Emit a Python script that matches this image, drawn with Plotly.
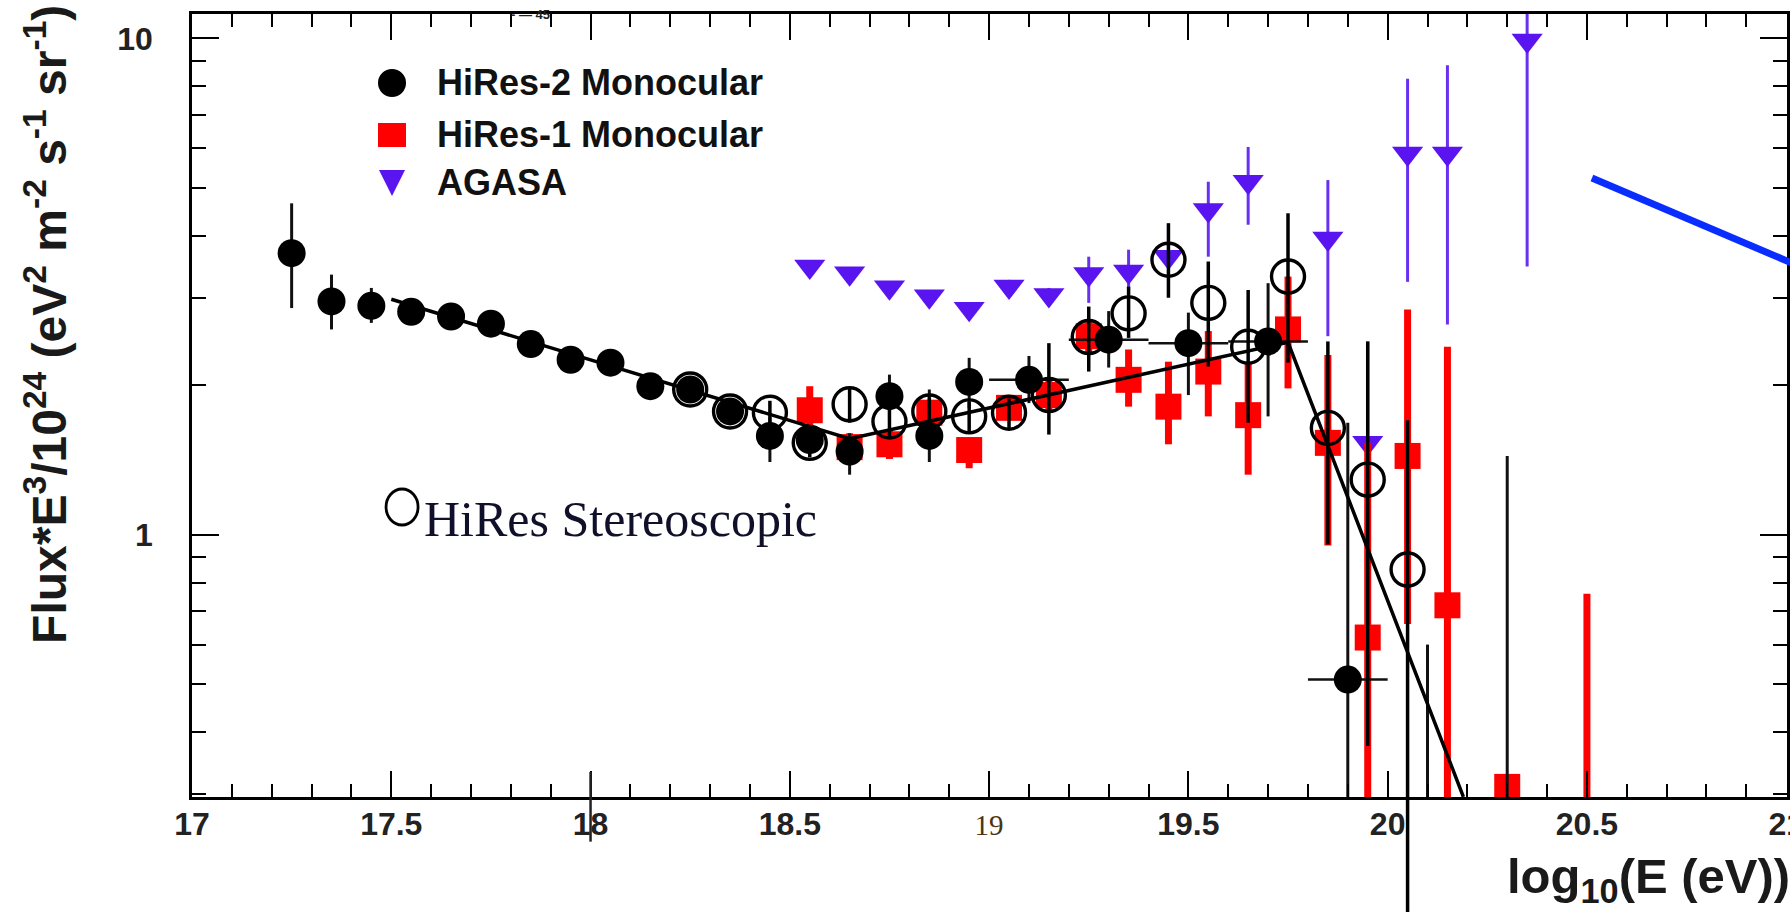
import plotly.graph_objects as go

# ---------------- data ----------------
hires2_x = [17.25, 17.35, 17.45, 17.55, 17.65, 17.75, 17.85, 17.95, 18.05, 18.15,
            18.25, 18.35, 18.45, 18.55, 18.65, 18.75, 18.85, 18.95, 19.1, 19.3,
            19.5, 19.7, 19.9, 20.1, 20.3]
hires2_y = [3.69, 2.95, 2.89, 2.81, 2.75, 2.66, 2.42, 2.25, 2.22, 1.99,
            1.96, 1.77, 1.58, 1.55, 1.47, 1.90, 1.58, 2.03, 2.05, 2.47,
            2.43, 2.45, 0.51, 0.20, 0.20]
hires2_up = [0.96, 0.39, 0.25, 0.08, 0.08, 0.08, 0.08, 0.07, 0.07, 0.07,
             0.07, 0.08, 0.14, 0.10, 0.13, 0.20, 0.38, 0.24, 0.24, 0.35,
             0.37, 0.76, 1.17, 0.40, 1.24]
hires2_dn = [0.83, 0.36, 0.22, 0.08, 0.08, 0.08, 0.08, 0.07, 0.07, 0.07,
             0.07, 0.08, 0.18, 0.10, 0.15, 0.20, 0.18, 0.23, 0.21, 0.30,
             0.52, 0.72, 0.49, 0.0, 0.0]
hires2_xerr = [0, 0, 0, 0, 0, 0, 0, 0, 0, 0,
               0, 0, 0, 0, 0, 0, 0, 0, 0.1, 0.1,
               0.1, 0.1, 0.1, 0, 0]

hires1_x = [18.55, 18.65, 18.75, 18.85, 18.95, 19.05, 19.15, 19.25, 19.35, 19.45,
            19.55, 19.65, 19.75, 19.85, 19.95, 20.05, 20.15, 20.3, 20.5]
hires1_y = [1.78, 1.50, 1.52, 1.76, 1.48, 1.80, 1.91, 2.51, 2.05, 1.81,
            2.13, 1.74, 2.59, 1.53, 0.62, 1.44, 0.72, 0.31, 0.20]
hires1_up = [0.21, 0.10, 0.10, 0.09, 0.08, 0.10, 0.14, 0.19, 0.31, 0.42,
             0.44, 0.48, 0.72, 0.77, 0.91, 1.40, 1.67, 0.0, 0.56]
hires1_dn = [0.16, 0.12, 0.10, 0.14, 0.12, 0.10, 0.15, 0.21, 0.24, 0.29,
             0.40, 0.42, 0.62, 0.58, 0.60, 0.78, 0.70, 0.0, 0.0]

agasa_x = [18.55, 18.65, 18.75, 18.85, 18.95, 19.05, 19.15, 19.25, 19.35, 19.45,
           19.55, 19.65, 19.85, 19.95, 20.05, 20.15, 20.35]
agasa_y = [3.47, 3.36, 3.15, 3.02, 2.85, 3.16, 3.04, 3.35, 3.39, 3.63,
           4.51, 5.14, 3.95, 1.53, 5.86, 5.86, 9.9]
agasa_up = [0.08, 0.08, 0.08, 0.08, 0.08, 0.10, 0.10, 0.28, 0.36, 0.60,
            0.63, 0.90, 1.23, 0.92, 2.43, 2.97, 3.0]
agasa_dn = [0.08, 0.08, 0.08, 0.08, 0.08, 0.10, 0.10, 0.42, 0.28, 0.60,
            0.88, 0.93, 1.44, 0.23, 2.63, 3.21, 6.43]

stereo_x = [18.25, 18.35, 18.45, 18.55, 18.65, 18.75, 18.85, 18.95, 19.05, 19.15,
            19.25, 19.35, 19.45, 19.55, 19.65, 19.75, 19.85, 19.95, 20.05]
stereo_y = [1.96, 1.77, 1.76, 1.53, 1.83, 1.69, 1.77, 1.73, 1.76, 1.91,
            2.50, 2.79, 3.58, 2.93, 2.39, 3.31, 1.64, 1.29, 0.85]
stereo_up = [0.05, 0.05, 0.10, 0.10, 0.15, 0.12, 0.12, 0.12, 0.12, 0.52,
             0.38, 0.37, 0.66, 0.62, 0.72, 1.13, 0.81, 1.16, 0.85]
stereo_dn = [0.05, 0.05, 0.10, 0.10, 0.15, 0.12, 0.12, 0.12, 0.12, 0.32,
             0.37, 0.30, 0.58, 0.75, 0.71, 1.09, 0.685, 0.915, 0.84]

fit_x = [17.5, 18.65, 19.75, 20.19]
fit_y = [2.98, 1.56, 2.44, 0.296]

x_tickvals = [17, 17.5, 18, 18.5, 19, 19.5, 20, 20.5, 21]
x_ticktext = ["17", "17.5", "18", "18.5", "19", "19.5", "20", "20.5", "21"]
y_tickvals = [1, 10]
y_ticktext = ["1", "10"]
y_minor_vals = [0.3, 0.4, 0.5, 0.6, 0.7, 0.8, 0.9, 2, 3, 4, 5, 6, 7, 8, 9]

legend_names = ["HiRes-2 Monocular", "HiRes-1 Monocular", "AGASA"]

# --------------------------------------------------------------
SANS = "Liberation Sans, Arial, sans-serif"
SERIF = "Liberation Serif, Times New Roman, serif"
VIOLET = "#5a14f0"
RED = "#ff0000"

# odd serif "19" label as in the picture
x_ticktext_styled = [
    ('<span style="font-family:Liberation Serif;font-weight:normal;'
     'font-size:29px;color:#4a3512">' + t + '</span>') if t == "19" else t
    for t in x_ticktext
]

fig = go.Figure()

fig.add_trace(go.Scatter(
    x=agasa_x, y=agasa_y, mode="markers", name=legend_names[2], showlegend=False,
    marker=dict(symbol="triangle-down", size=27, color=VIOLET, line=dict(width=0)),
    error_y=dict(type="data", symmetric=False, array=agasa_up, arrayminus=agasa_dn,
                 color="#6a30f2", thickness=3, width=0),
))

fig.add_trace(go.Scatter(
    x=hires1_x, y=hires1_y, mode="markers", name=legend_names[1], showlegend=False,
    marker=dict(symbol="square", size=26, color=RED, line=dict(width=0)),
    error_y=dict(type="data", symmetric=False, array=hires1_up, arrayminus=hires1_dn,
                 color=RED, thickness=7, width=0),
))

fig.add_trace(go.Scatter(
    x=hires2_x, y=hires2_y, mode="markers", name=legend_names[0], showlegend=False,
    marker=dict(symbol="circle", size=28, color="#000000", line=dict(width=0)),
    error_y=dict(type="data", symmetric=False, array=hires2_up, arrayminus=hires2_dn,
                 color="#111111", thickness=3, width=0),
    error_x=dict(type="data", array=hires2_xerr, color="#111111", thickness=2.5, width=0),
))

fig.add_trace(go.Scatter(
    x=fit_x, y=fit_y, mode="lines", showlegend=False,
    line=dict(color="#000000", width=3.5),
))

fig.add_trace(go.Scatter(
    x=stereo_x, y=stereo_y, mode="markers", name="HiRes Stereoscopic", showlegend=False,
    marker=dict(symbol="circle-open", size=33, color="#000000", line=dict(width=3.4, color="#000000")),
    error_y=dict(type="data", symmetric=False, array=stereo_up, arrayminus=stereo_dn,
                 color="#000000", thickness=3.5, width=0),
))

# stereo error bar of the last point continues below the frame
fig.add_shape(type="line", xref="x", yref="paper",
              x0=stereo_x[-1], x1=stereo_x[-1], y0=0, y1=-0.16,
              line=dict(color="#000000", width=3.5))
# stray stroke through the "18" label
fig.add_shape(type="line", xref="x", yref="paper",
              x0=x_tickvals[2], x1=x_tickvals[2], y0=0.032, y1=-0.057,
              line=dict(color="#222222", width=2.5))
# blue pointer line at top right
fig.add_shape(type="line", xref="paper", yref="paper",
              x0=0.8777, y0=0.7905, x1=1.003, y1=0.682,
              line=dict(color="#0a2dff", width=7))

# ---- legend drawn as in the picture (keys + labels) ----
LEG_SYM_X = 0.1254
LEG_TXT_X = 0.1524
LEG_ROWS = [0.9119, 0.8455, 0.7854]
fig.add_shape(type="circle", xref="paper", yref="paper", xsizemode="pixel", ysizemode="pixel",
              xanchor=LEG_SYM_X, yanchor=LEG_ROWS[0], x0=-14, x1=14, y0=-14, y1=14,
              fillcolor="#000000", line=dict(width=0))
fig.add_shape(type="rect", xref="paper", yref="paper", xsizemode="pixel", ysizemode="pixel",
              xanchor=LEG_SYM_X, yanchor=LEG_ROWS[1], x0=-14, x1=14, y0=-12, y1=12,
              fillcolor=RED, line=dict(width=0))
fig.add_shape(type="path", xref="paper", yref="paper", xsizemode="pixel", ysizemode="pixel",
              xanchor=LEG_SYM_X, yanchor=LEG_ROWS[2], path="M -13,12 L 13,12 L 0,-14 Z",
              fillcolor=VIOLET, line=dict(width=0))
for name, row in zip(legend_names, LEG_ROWS):
    fig.add_annotation(xref="paper", yref="paper", x=LEG_TXT_X, y=row,
                       xanchor="left", yanchor="middle", showarrow=False, text=name,
                       font=dict(family=SANS, size=36, weight="bold", color="#111111"))

# open circle key for the stereo data
fig.add_shape(type="circle", xref="paper", yref="paper",
              xsizemode="pixel", ysizemode="pixel",
              xanchor=0.1317, yanchor=0.3704,
              x0=-16, x1=16, y0=-18, y1=18,
              line=dict(color="#000000", width=2.8))
fig.add_annotation(xref="paper", yref="paper", x=0.144, y=0.355,
                   xanchor="left", yanchor="middle", showarrow=False,
                   text="HiRes Stereoscopic",
                   font=dict(family=SERIF, size=50, color="#10102a"))

# cut-off text fragment on the top frame
fig.add_annotation(xref="paper", yref="paper", x=0.212, y=1.0,
                   xanchor="center", yanchor="middle", showarrow=False,
                   text="- — 45",
                   font=dict(family=SANS, size=13, weight="bold", color="#222222"))

# y-axis title
fig.add_annotation(xref="paper", yref="paper", x=-0.0915, y=0.603,
                   xanchor="center", yanchor="middle", showarrow=False,
                   textangle=-90,
                   text="Flux*E<sup>3</sup>/10<sup>24</sup> (eV<sup>2</sup> m<sup>-2</sup> s<sup>-1</sup> sr<sup>-1</sup>)",
                   font=dict(family=SANS, size=48, weight="bold", color="#1a1a1a"))
# x-axis title
fig.add_annotation(xref="paper", yref="paper", x=1.0031, y=-0.106,
                   xanchor="right", yanchor="middle", showarrow=False,
                   text="log<sub>10</sub>(E (eV))",
                   font=dict(family=SANS, size=49, weight="bold", color="#1a1a1a"))

fig.update_layout(
    width=1790, height=912,
    margin=dict(l=192, r=3, t=14, b=115, pad=0, autoexpand=False),
    paper_bgcolor="white", plot_bgcolor="white",
    showlegend=False,
    xaxis=dict(
        range=[17, 21.002], showgrid=False, zeroline=False,
        showline=True, linecolor="#000000", linewidth=2.5, mirror="allticks",
        ticks="inside", ticklen=26, tickwidth=2, tickcolor="#000000",
        tickmode="array", tickvals=x_tickvals, ticktext=x_ticktext_styled,
        tickfont=dict(family=SANS, size=32, weight="bold", color="#222222"),
        ticklabelstandoff=-3, ticklabeloverflow="allow",
        minor=dict(ticks="inside", ticklen=13, tickwidth=2, tickcolor="#000000",
                   dtick=0.1, tick0=17, showgrid=False),
    ),
    yaxis=dict(
        type="log", range=[-0.529, 1.049], showgrid=False, zeroline=False,
        showline=True, linecolor="#000000", linewidth=2.5, mirror="allticks",
        ticks="inside", ticklen=27, tickwidth=2, tickcolor="#000000",
        tickmode="array", tickvals=y_tickvals, ticktext=y_ticktext,
        tickfont=dict(family=SANS, size=32, weight="bold", color="#222222"),
        ticklabelstandoff=30,
        minor=dict(ticks="inside", ticklen=14, tickwidth=2, tickcolor="#000000",
                   tickmode="array", tickvals=y_minor_vals, showgrid=False),
    ),
)

fig.write_html("out.html", config={"displayModeBar": False},
               post_script="document.body.style.margin='0';")
